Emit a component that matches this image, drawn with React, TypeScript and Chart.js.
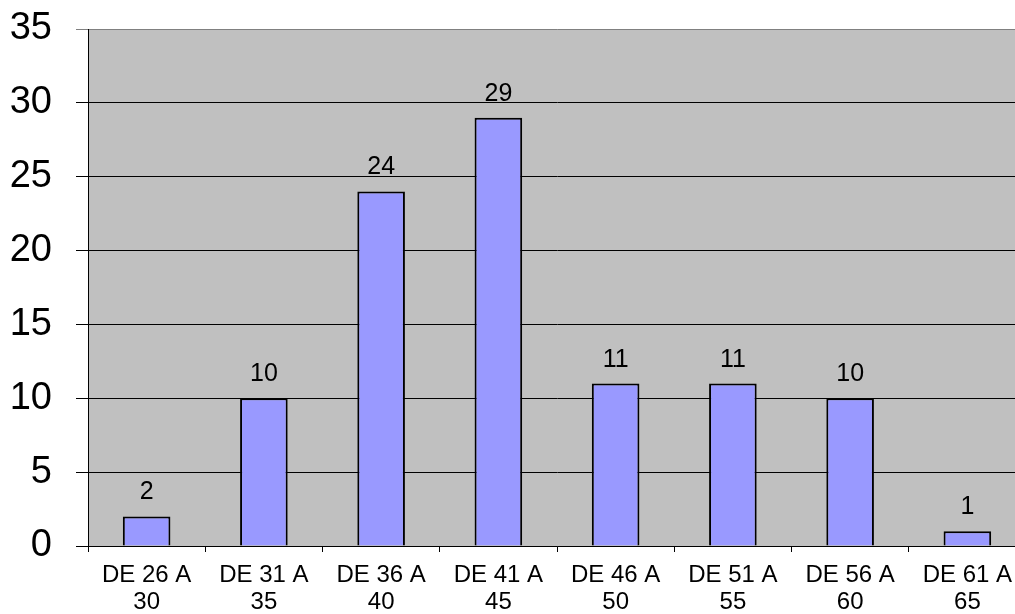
import { useRef, useEffect } from 'react';
import { Chart, registerables } from 'chart.js';

Chart.register(...registerables);

const categories = [
  ['DE 26 A', '30'],
  ['DE 31 A', '35'],
  ['DE 36 A', '40'],
  ['DE 41 A', '45'],
  ['DE 46 A', '50'],
  ['DE 51 A', '55'],
  ['DE 56 A', '60'],
  ['DE 61 A', '65'],
];
const counts = [2, 10, 24, 29, 11, 11, 10, 1];
const yMax = 35;
const yStep = 5;

const FONT = '"Liberation Sans", Arial, sans-serif';

// grey plot area like the old spreadsheet charts
const plotBackground = {
  id: 'plotBackground',
  beforeDraw(chart: Chart) {
    const { ctx, chartArea } = chart;
    ctx.save();
    ctx.fillStyle = '#c0c0c0';
    ctx.fillRect(chartArea.left, chartArea.top, chartArea.right - chartArea.left, chartArea.bottom - chartArea.top);
    ctx.restore();
  },
};

const valueLabels = {
  id: 'valueLabels',
  afterDatasetsDraw(chart: Chart) {
    const { ctx } = chart;
    const meta = chart.getDatasetMeta(0);
    ctx.save();
    ctx.font = `25px ${FONT}`;
    ctx.fillStyle = '#000';
    ctx.textAlign = 'center';
    ctx.textBaseline = 'alphabetic';
    meta.data.forEach((bar, i) => {
      ctx.fillText(String(counts[i]), bar.x, bar.y - 17);
    });
    ctx.restore();
  },
};

export default function App() {
  const canvasRef = useRef<HTMLCanvasElement>(null);

  useEffect(() => {
    if (!canvasRef.current) return;

    const chart = new Chart(canvasRef.current, {
      type: 'bar',
      data: {
        labels: categories,
        datasets: [
          {
            data: counts,
            backgroundColor: '#9999ff',
            borderColor: '#000',
            borderWidth: 2,
            categoryPercentage: 1,
            barPercentage: 0.406,
          },
        ],
      },
      options: {
        responsive: false,
        animation: false,
        devicePixelRatio: 1,
        layout: { padding: { top: 29, left: 0, right: 4, bottom: 0 } },
        plugins: { legend: { display: false }, tooltip: { enabled: false } },
        scales: {
          x: {
            afterFit: (scale: any) => {
              scale.height = 68;
            },
            grid: {
              drawOnChartArea: false,
              drawTicks: true,
              tickLength: 6,
              color: '#000',
            },
            border: { color: '#000', width: 1 },
            ticks: {
              color: '#000',
              padding: 10,
              font: { family: FONT, size: 24, lineHeight: 1.11 },
              maxRotation: 0,
              autoSkip: false,
            },
          },
          y: {
            min: 0,
            max: yMax,
            afterFit: (scale: any) => {
              scale.width = 88;
              scale.paddingTop = 0;
              scale.paddingBottom = 0;
            },
            grid: {
              color: (c: any) => (c.tick && c.tick.value === yMax ? '#808080' : '#000'),
              lineWidth: 1,
              tickLength: 12,
            },
            border: { color: '#000', width: 1 },
            ticks: {
              stepSize: yStep,
              color: '#000',
              padding: 24,
              font: { family: FONT, size: 38 },
            },
          },
        },
      },
      plugins: [plotBackground, valueLabels],
    });

    return () => {
      chart.destroy();
    };
  }, []);

  return (
    <div
      style={{
        position: 'fixed',
        left: 0,
        top: 0,
        width: 1015,
        height: 614,
        overflow: 'hidden',
        background: '#fff',
      }}
    >
      <canvas ref={canvasRef} width={1030} height={614} style={{ display: 'block' }} />
    </div>
  );
}
